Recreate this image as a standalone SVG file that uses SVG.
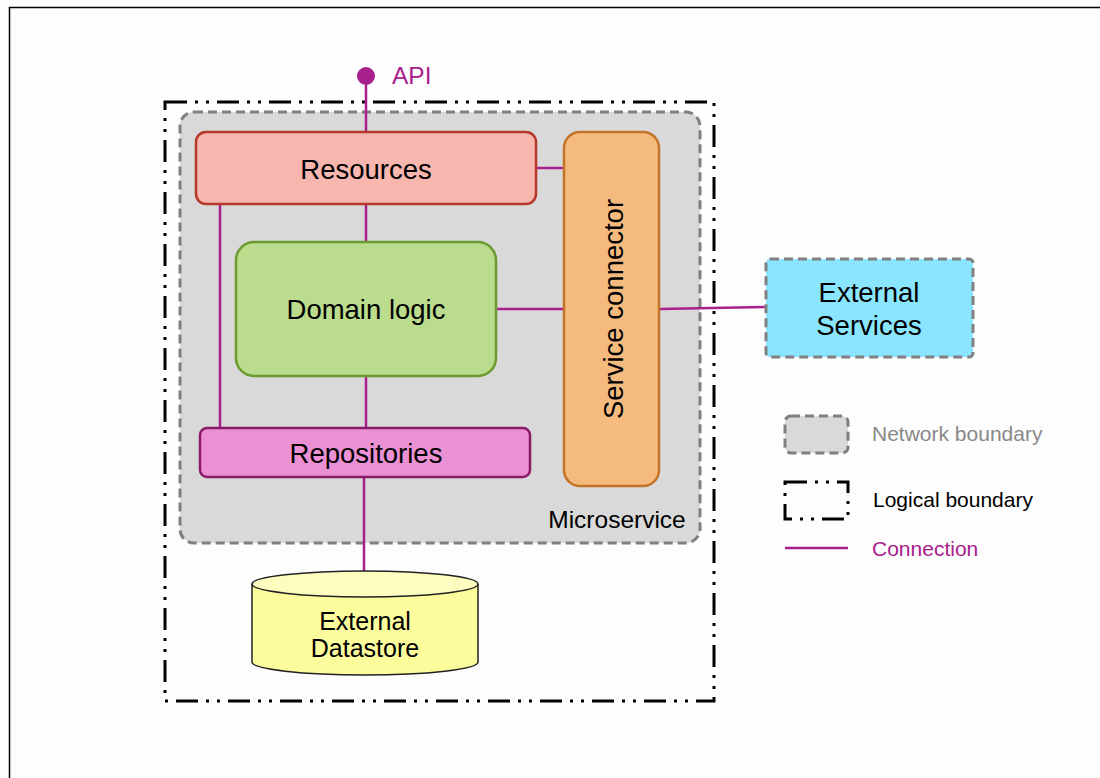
<svg xmlns="http://www.w3.org/2000/svg" width="1100" height="778" viewBox="0 0 1100 778">
<style>
text{font-family:"Liberation Sans",Arial,sans-serif;}
.conn{stroke:#a8208c;stroke-width:2.5;fill:none;}
.lbl{font-size:27.5px;fill:#000;text-anchor:middle;}
.net{fill:#d9d9d9;stroke:#808080;stroke-width:3;stroke-dasharray:9 5;}
.log{fill:none;stroke:#000;stroke-width:3;stroke-dasharray:22 8 3 8 3 8;}
.leg{font-size:21px;}
</style>
<rect x="0" y="0" width="1100" height="778" fill="#fdfdfd"/>
<path d="M9.5 778 V7.5 H1100" fill="none" stroke="#000" stroke-width="1.5"/>

<g id="logical-boundary"><rect x="165" y="102" width="549" height="599" class="log"/></g>
<g id="microservice">
<rect x="180" y="112" width="520" height="431" rx="14" class="net"/>
<text x="617" y="528" font-size="24.5" text-anchor="middle">Microservice</text>
</g>

<g id="connectors">
<line class="conn" x1="366" y1="76" x2="366" y2="132"/>
<line class="conn" x1="366" y1="204" x2="366" y2="242"/>
<line class="conn" x1="220" y1="204" x2="220" y2="428"/>
<line class="conn" x1="366" y1="376" x2="366" y2="428"/>
<line class="conn" x1="536" y1="168" x2="564" y2="168"/>
<line class="conn" x1="496" y1="309" x2="564" y2="309"/>
<line class="conn" x1="659" y1="309" x2="766" y2="307"/>
<line class="conn" x1="364" y1="477" x2="364" y2="572"/>
</g>

<g id="api">
<circle cx="366" cy="76" r="9" fill="#a8208c"/>
<text x="392" y="84" font-size="24.5" fill="#a8208c">API</text>
</g>

<g id="resources">
<rect x="196" y="132" width="340" height="72" rx="10" fill="#f7b6ae" stroke="#b5382b" stroke-width="2.5"/>
<text x="366" y="179" class="lbl">Resources</text>
</g>
<g id="domain-logic">
<rect x="236" y="242" width="260" height="134" rx="18" fill="#badc8c" stroke="#6a9a30" stroke-width="2.5"/>
<text x="366" y="319" class="lbl">Domain logic</text>
</g>
<g id="repositories">
<rect x="200" y="428" width="330" height="49" rx="7" fill="#ec90d4" stroke="#8a1a6a" stroke-width="2.5"/>
<text x="366" y="463" class="lbl">Repositories</text>
</g>
<g id="service-connector">
<rect x="564" y="132" width="95" height="354" rx="16" fill="#f5bb7e" stroke="#c27428" stroke-width="2.5"/>
<text x="0" y="0" class="lbl" transform="translate(623 309) rotate(-90)">Service connector</text>
</g>
<g id="external-services">
<rect x="766" y="259" width="207" height="98" rx="4" fill="#8ae6ff" stroke="#808080" stroke-width="3" stroke-dasharray="9 5"/>
<text x="869" y="302" class="lbl">External</text>
<text x="869" y="335" class="lbl">Services</text>
</g>
<g id="external-datastore">
<path d="M252 584 V662 A113 13 0 0 0 478 662 V584" fill="#fcfc9c" stroke="#222" stroke-width="1.5"/>
<ellipse cx="365" cy="584" rx="113" ry="13" fill="#fdfdc0" stroke="#222" stroke-width="1.5"/>
<text x="365" y="630" font-size="25" text-anchor="middle">External</text>
<text x="365" y="657" font-size="25" text-anchor="middle">Datastore</text>
</g>

<g id="legend">
<rect x="785" y="416" width="63" height="37" rx="6" class="net"/>
<text x="872" y="441" class="leg" fill="#888">Network boundary</text>
<rect x="785" y="482" width="63" height="37" class="log" stroke-dasharray="18 8 3 8 3 8"/>
<text x="873" y="507" class="leg" fill="#000">Logical boundary</text>
<line class="conn" x1="785" y1="548" x2="848" y2="548"/>
<text x="872" y="556" class="leg" fill="#a8208c">Connection</text>
</g>
</svg>
